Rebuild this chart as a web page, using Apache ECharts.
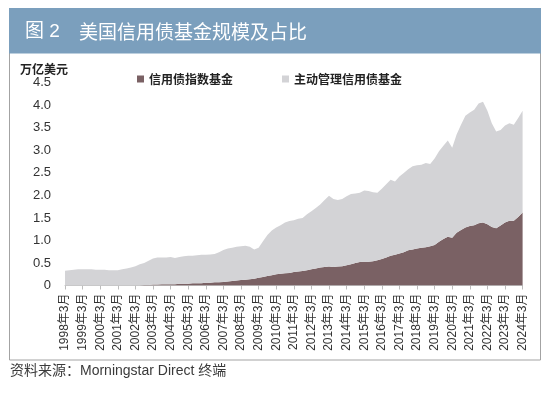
<!DOCTYPE html>
<html><head><meta charset="utf-8">
<script src="https://cdn.jsdelivr.net/npm/echarts@6/dist/echarts.min.js"></script>
<style>html,body{margin:0;padding:0;background:#fff}#c{width:550px;height:393px}</style>
</head><body><div id="c"></div>
<script>
// Data (万亿美元), quarterly from 1998年3月 to 2024年3月
const years = [1998,1999,2000,2001,2002,2003,2004,2005,2006,2007,2008,2009,2010,2011,2012,2013,2014,2015,2016,2017,2018,2019,2020,2021,2022,2023,2024];
const months = ['3月','6月','9月','12月'];
const seriesNames = ['信用债指数基金','主动管理信用债基金'];
const indexFund = [
  0,0,0,0,
  0,0,0,0,
  0,0,0,0,
  0,0,0,0,
  0,0,0.01,0.01,
  0.02,0.02,0.03,0.03,
  0.03,0.03,0.04,0.04,
  0.04,0.05,0.05,0.05,
  0.06,0.06,0.07,0.07,
  0.08,0.09,0.10,0.11,
  0.12,0.13,0.14,0.15,
  0.17,0.19,0.21,0.23,
  0.25,0.26,0.27,0.28,
  0.30,0.31,0.32,0.34,
  0.36,0.38,0.40,0.41,
  0.42,0.41,0.42,0.43,
  0.45,0.47,0.50,0.52,
  0.53,0.53,0.54,0.56,
  0.59,0.62,0.66,0.68,
  0.71,0.74,0.78,0.80,
  0.82,0.84,0.85,0.87,
  0.90,0.97,1.03,1.08,
  1.06,1.17,1.23,1.29,
  1.32,1.34,1.38,1.40,
  1.36,1.30,1.27,1.33,
  1.40,1.44,1.44,1.52,
  1.62
];
const activeFund = [
  0.33,0.34,0.35,0.36,
  0.36,0.36,0.36,0.35,
  0.35,0.35,0.34,0.34,
  0.34,0.36,0.38,0.40,
  0.43,0.47,0.49,0.54,
  0.58,0.60,0.59,0.59,
  0.60,0.58,0.59,0.61,
  0.62,0.61,0.62,0.63,
  0.62,0.63,0.63,0.67,
  0.71,0.73,0.74,0.75,
  0.75,0.75,0.72,0.65,
  0.67,0.79,0.91,0.99,
  1.04,1.08,1.13,1.15,
  1.15,1.17,1.18,1.24,
  1.29,1.34,1.40,1.49,
  1.57,1.51,1.48,1.49,
  1.53,1.56,1.54,1.54,
  1.58,1.57,1.53,1.50,
  1.56,1.63,1.69,1.63,
  1.71,1.76,1.80,1.85,
  1.85,1.84,1.87,1.83,
  1.92,2.01,2.07,2.14,
  2.00,2.18,2.34,2.48,
  2.52,2.56,2.66,2.68,
  2.52,2.30,2.15,2.12,
  2.15,2.16,2.13,2.20,
  2.26
];
const categories = [];
for (const y of years) {
  for (const m of months) {
    if (categories.length < indexFund.length) categories.push(y + '年' + m);
  }
}

const chart = echarts.init(document.getElementById('c'), null, {renderer: 'canvas'});
const CJK = 'Liberation Sans, Noto Sans CJK SC, sans-serif';
chart.setOption({
  backgroundColor: '#ffffff',
  animation: false,
  textStyle: {fontFamily: CJK},
  graphic: [
    {type: 'rect', shape: {x: 9.5, y: 8.5, width: 531, height: 351.5}, style: {fill: 'none', stroke: '#a3a3a3', lineWidth: 1}, z: 0},
    {type: 'rect', shape: {x: 9, y: 8, width: 532, height: 45.5}, style: {fill: '#7b9fbd'}, z: 1},
    {type: 'text', left: 25, top: 22, style: {text: '图 2', fill: '#ffffff', font: '19px Liberation Sans, Noto Sans CJK SC'}, z: 2},
    {type: 'text', left: 79, top: 22, style: {text: '美国信用债基金规模及占比', fill: '#ffffff', font: '19px Noto Sans CJK SC'}, z: 2},
    {type: 'text', left: 20, top: 63, style: {text: '万亿美元', fill: '#222222', font: 'bold 12px Noto Sans CJK SC'}, z: 2},
    {type: 'text', left: 10, top: 364, style: {text: '资料来源：Morningstar Direct 终端', fill: '#3a3a3a', font: '14px Liberation Sans, Noto Sans CJK SC'}, z: 2}
  ],
  legend: {
    left: 132, top: 68,
    itemWidth: 7, itemHeight: 7, itemGap: 49,
    icon: 'rect',
    data: seriesNames,
    textStyle: {fontSize: 12, color: '#222222', fontWeight: 'bold', fontFamily: 'Noto Sans CJK SC'}
  },
  grid: {left: 65, right: 27.4, top: 82.8, bottom: 107.5, containLabel: false, outerBoundsMode: 'none'},
  xAxis: {
    type: 'category',
    data: categories,
    boundaryGap: false,
    axisLine: {lineStyle: {color: '#c4c4c4', width: 1}},
    axisTick: {show: true, interval: 3, length: 4, lineStyle: {color: '#bdbdbd'}},
    axisLabel: {interval: 3, rotate: 90, fontSize: 12, color: '#333333', margin: 8, fontFamily: CJK}
  },
  yAxis: {
    type: 'value',
    min: 0, max: 4.5, interval: 0.5,
    axisLine: {show: false},
    axisTick: {show: false},
    splitLine: {show: false},
    axisLabel: {fontSize: 13, color: '#333333', margin: 14, fontFamily: 'Liberation Sans',
      formatter: v => v === 0 ? '0' : v.toFixed(1)}
  },
  series: [
    {name: seriesNames[0], type: 'line', stack: 'total', data: indexFund, symbol: 'none', smooth: false,
      lineStyle: {width: 0}, itemStyle: {color: '#7a6164'}, areaStyle: {color: '#7a6164', opacity: 1}},
    {name: seriesNames[1], type: 'line', stack: 'total', data: activeFund, symbol: 'none', smooth: false,
      lineStyle: {width: 0}, itemStyle: {color: '#d3d3d6'}, areaStyle: {color: '#d3d3d6', opacity: 1}}
  ]
});
</script></body></html>
